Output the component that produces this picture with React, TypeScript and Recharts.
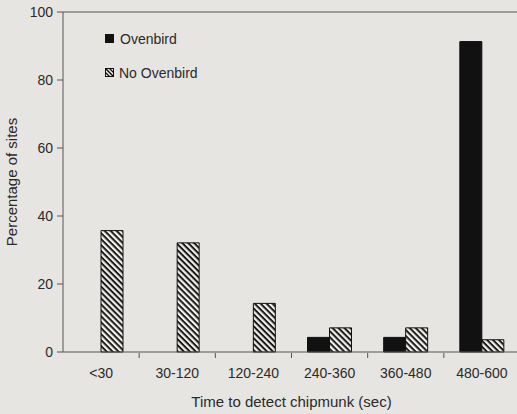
import React from "react";
import {
  BarChart,
  Bar,
  XAxis,
  YAxis,
  ReferenceLine,
  Legend,
  Label,
} from "recharts";

const categories = ["<30", "30-120", "120-240", "240-360", "360-480", "480-600"];
const ovenbird = [0, 0, 0, 4.3, 4.3, 91.3];
const noOvenbird = [35.7, 32.1, 14.3, 7.1, 7.1, 3.6];
const yTicks = [0, 20, 40, 60, 80, 100];
const boundaryTicks = [1, 2, 3, 4, 5];

const data = categories.map((c, i) => ({
  cat: c,
  pos: i + 0.5,
  ovenbird: ovenbird[i],
  noOvenbird: noOvenbird[i],
}));

const FONT = "'Liberation Sans', Arial, Helvetica, sans-serif";
const BG = "#e7e5e1";
const INK = "#2a2a2a";

const NoTickLabel = () => <g />;

const LegendContent = () => (
  <div style={{ fontFamily: FONT, fontSize: 14, color: INK }}>
    <div style={{ display: "flex", alignItems: "center", height: 17 }}>
      <svg width={9} height={9} style={{ marginRight: 6 }}>
        <rect x={0} y={0} width={9} height={9} fill="#111" />
      </svg>
      <span>Ovenbird</span>
    </div>
    <div style={{ display: "flex", alignItems: "center", height: 17, marginTop: 17 }}>
      <svg width={9} height={9} style={{ marginRight: 5 }}>
        <rect x={0.5} y={0.5} width={8} height={8} fill="#f2f1ee" stroke="#111" strokeWidth={1} />
        <line x1={0.5} y1={0.5} x2={8.5} y2={8.5} stroke="#111" strokeWidth={1.5} />
        <line x1={0.5} y1={4.5} x2={4.5} y2={8.5} stroke="#111" strokeWidth={1.2} />
        <line x1={4.5} y1={0.5} x2={8.5} y2={4.5} stroke="#111" strokeWidth={1.2} />
      </svg>
      <span>No Ovenbird</span>
    </div>
  </div>
);

export default function App() {
  return (
    <div
      style={{
        position: "absolute",
        left: 0,
        top: 0,
        width: 517,
        height: 414,
        overflow: "hidden",
        background: BG,
      }}
    >
      <BarChart
        width={524}
        height={414}
        data={data}
        margin={{ top: 12, right: 4, left: 0, bottom: 0 }}
        barCategoryGap={16}
        barGap={0}
      >
        <defs>
          <pattern
            id="hatch"
            patternUnits="userSpaceOnUse"
            width={4.2}
            height={4.2}
            patternTransform="rotate(45)"
          >
            <rect x={0} y={0} width={4.2} height={4.2} fill="#f2f1ee" />
            <rect x={0} y={0} width={4.2} height={2} fill="#1a1a1a" />
          </pattern>
        </defs>
        <XAxis
          dataKey="cat"
          height={1}
          axisLine={{ stroke: "#555", strokeWidth: 1 }}
          tickLine={false}
          tickSize={5}
          tickMargin={11}
          interval={0}
          tick={{ fontFamily: FONT, fontSize: 14, fill: INK }}
        />
        <XAxis
          xAxisId="bounds"
          dataKey="pos"
          type="number"
          domain={[0, 6]}
          allowDataOverflow={true}
          ticks={boundaryTicks}
          interval={0}
          height={61}
          axisLine={false}
          tickSize={5}
          tickLine={{ stroke: "#555", strokeWidth: 1 }}
          tick={NoTickLabel}
        >
          <Label
            value="Time to detect chipmunk (sec)"
            position="insideBottom"
            offset={7}
            style={{ fontFamily: FONT, fontSize: 15, fill: INK }}
          />
        </XAxis>
        <YAxis
          width={63}
          domain={[0, 100]}
          ticks={yTicks}
          interval={0}
          axisLine={{ stroke: "#555", strokeWidth: 1 }}
          tickLine={{ stroke: "#555" }}
          tickSize={6}
          tickMargin={4}
          tick={{ fontFamily: FONT, fontSize: 14, fill: INK }}
        >
          <Label
            value="Percentage of sites"
            angle={-90}
            position="insideLeft"
            offset={12}
            style={{ fontFamily: FONT, fontSize: 15, fill: INK, textAnchor: "middle" }}
          />
        </YAxis>
        <ReferenceLine y={100} stroke="#555" strokeWidth={1} />
        <Legend
          layout="vertical"
          align="center"
          verticalAlign="middle"
          content={<LegendContent />}
          wrapperStyle={{ top: 30, left: 105, width: 200, height: 60 }}
        />
        <Bar
          dataKey="ovenbird"
          name="Ovenbird"
          fill="#111"
          stroke="#111"
          strokeWidth={1}
          isAnimationActive={false}
        />
        <Bar
          dataKey="noOvenbird"
          name="No Ovenbird"
          fill="url(#hatch)"
          stroke="#111"
          strokeWidth={1}
          isAnimationActive={false}
        />
      </BarChart>
    </div>
  );
}
